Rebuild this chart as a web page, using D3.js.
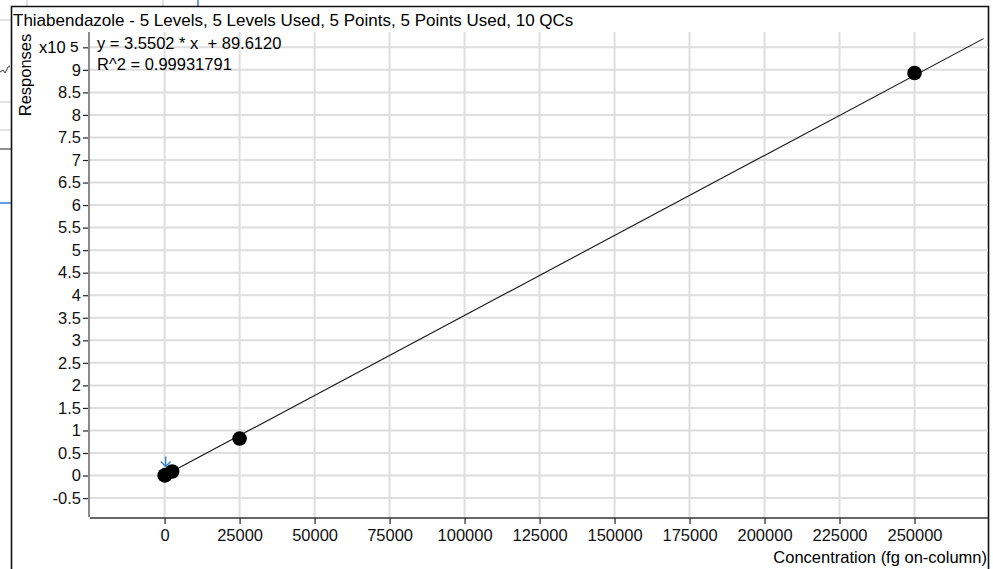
<!DOCTYPE html>
<html>
<head>
<meta charset="utf-8">
<script src="https://cdn.jsdelivr.net/npm/d3@7"></script>
<style>
  html, body { margin: 0; padding: 0; background: #fff; }
  svg { display: block; font-family: "Liberation Sans", Arial, sans-serif; }
  text { white-space: pre; }
</style>
</head>
<body>
<svg id="chart" width="993" height="569"></svg>
<script>
// calibration levels (fg on-column) and their responses
const levels = [25, 250, 2500, 25000, 250000]
const responses = [180, 950, 8900, 82000, 893000]

// linear fit shown in the header
const fitSlope = 3.5502
const fitIntercept = 89.6120
const fitLabel = "y = 3.5502 * x  + 89.6120"
const r2Label = "R^2 = 0.99931791"
const fitRange = [0, 273000]

const xTicks = [0, 25000, 50000, 75000, 100000, 125000, 150000, 175000, 200000, 225000, 250000]
const yTicks = [-0.5, 0, 0.5, 1, 1.5, 2, 2.5, 3, 3.5, 4, 4.5, 5, 5.5, 6, 6.5, 7, 7.5, 8, 8.5, 9, 9.5]
const yTickLabels = ["-0.5", "0", "0.5", "1", "1.5", "2", "2.5", "3", "3.5", "4", "4.5", "5",
    "5.5", "6", "6.5", "7", "7.5", "8", "8.5", "9", ""]

const title = "Thiabendazole - 5 Levels, 5 Levels Used, 5 Points, 5 Points Used, 10 QCs"
const xTitle = "Concentration (fg on-column)"
const yTitle = "Responses"

let svg = d3.select("#chart")
let fontSize = 16.5
let font = "Liberation Sans, Arial, sans-serif"

// bits of the window behind the panel
let bg = svg.append("g").attr("class", "behind")
for (let y of [20, 102, 130]) {
    bg.append("line").attr("x1", 0).attr("x2", 11).attr("y1", y).attr("y2", y)
        .attr("stroke", "#d8d8d8").attr("stroke-width", 1.5)
}
bg.append("line").attr("x1", 0).attr("x2", 11).attr("y1", 149).attr("y2", 149)
    .attr("stroke", "#222").attr("stroke-width", 1)
bg.append("line").attr("x1", 0).attr("x2", 11).attr("y1", 203).attr("y2", 203)
    .attr("stroke", "#3b7dd8").attr("stroke-width", 1.5)
for (let x of [27, 163]) {
    bg.append("line").attr("x1", x).attr("x2", x).attr("y1", 0).attr("y2", 6)
        .attr("stroke", "#d8d8d8").attr("stroke-width", 1.5)
}
bg.append("line").attr("x1", 198).attr("x2", 198).attr("y1", 0).attr("y2", 6)
    .attr("stroke", "#3b7dd8").attr("stroke-width", 1.5)
bg.append("path").attr("d", "M 0,72 L 3,70 L 5,73 L 8,67 L 10,66")
    .attr("fill", "none").attr("stroke", "#333").attr("stroke-width", 1)

// panel frame
svg.append("path")
    .attr("d", "M 11.5,569 L 11.5,6.5 L 988.5,6.5 L 988.5,569")
    .attr("fill", "none")
    .attr("stroke", "#111")
    .attr("stroke-width", 1.6)

let x = d3.scaleLinear().domain([-25200, 274500]).range([89, 988])
let y = d3.scaleLinear().domain([-92000, 984000]).range([517, 32])

// grid
let grid = svg.append("g").attr("class", "grid")
grid.selectAll("line.v")
    .data(xTicks)
    .join("line")
        .attr("class", "v")
        .attr("x1", d => x(d)).attr("x2", d => x(d))
        .attr("y1", 32).attr("y2", 517)
        .attr("stroke", "#dedede").attr("stroke-width", 2)
grid.selectAll("line.h")
    .data(yTicks)
    .join("line")
        .attr("class", "h")
        .attr("x1", 90).attr("x2", 988)
        .attr("y1", d => y(d * 1e5)).attr("y2", d => y(d * 1e5))
        .attr("stroke", "#dedede").attr("stroke-width", 2)

// axes
let yAxis = d3.axisLeft(y)
    .tickValues(yTicks.map(d => d * 1e5))
    .tickFormat((d, i) => yTickLabels[i])
    .tickSize(6)
    .tickPadding(2)
let gy = svg.append("g")
    .attr("transform", "translate(89,0)")
    .call(yAxis)
gy.select(".domain").remove()
gy.append("line")
    .attr("x1", 0).attr("x2", 0).attr("y1", 32).attr("y2", 517)
    .attr("stroke", "#8a8a8a").attr("stroke-width", 2)
gy.selectAll(".tick line").attr("stroke", "#222").attr("stroke-width", 1.2)
gy.selectAll(".tick text")
    .attr("fill", "#111")
    .style("font-size", fontSize + "px")
    .style("font-family", font)

let xAxis = d3.axisBottom(x)
    .tickValues(xTicks)
    .tickFormat(d => String(d))
    .tickSize(6)
    .tickPadding(5)
let gx = svg.append("g")
    .attr("transform", "translate(0,518)")
    .call(xAxis)
gx.select(".domain").remove()
gx.append("line")
    .attr("x1", 90).attr("x2", 988).attr("y1", 0).attr("y2", 0)
    .attr("stroke", "#333").attr("stroke-width", 1.5)
gx.selectAll(".tick line").attr("stroke", "#222").attr("stroke-width", 1.2)
gx.selectAll(".tick text")
    .attr("fill", "#111")
    .style("font-size", fontSize + "px")
    .style("font-family", font)

// exponent label on the top tick
let topY = y(yTicks[yTicks.length - 1] * 1e5)
svg.append("text")
    .attr("x", 39).attr("y", topY).attr("dy", "0.35em")
    .style("font-size", fontSize + "px")
    .text("x10")
svg.append("text")
    .attr("x", 70).attr("y", topY).attr("dy", "0.3em")
    .style("font-size", (fontSize - 1) + "px")
    .text("5")

// titles
svg.append("text")
    .attr("x", 13).attr("y", 20).attr("dy", "0.35em")
    .style("font-size", "17px")
    .text(title)
svg.append("text")
    .attr("transform", "translate(25,75) rotate(-90)")
    .attr("text-anchor", "middle").attr("dy", "0.35em")
    .style("font-size", fontSize + "px")
    .text(yTitle)
svg.append("text")
    .attr("x", 987).attr("y", 557).attr("dy", "0.35em")
    .attr("text-anchor", "end")
    .style("font-size", fontSize + "px")
    .text(xTitle)

// fit equation
svg.append("text")
    .attr("x", 97).attr("y", 43).attr("dy", "0.35em")
    .style("font-size", fontSize + "px")
    .text(fitLabel)
svg.append("text")
    .attr("x", 97).attr("y", 64).attr("dy", "0.35em")
    .style("font-size", fontSize + "px")
    .text(r2Label)

// fit line
let line = d3.line()
    .x(d => x(d))
    .y(d => y(fitSlope * d + fitIntercept))
svg.append("path")
    .datum(fitRange)
    .attr("d", line)
    .attr("fill", "none")
    .attr("stroke", "#111")
    .attr("stroke-width", 1.1)

// calibration points
svg.append("g")
    .selectAll("circle")
    .data(levels)
    .join("circle")
        .attr("cx", d => x(d))
        .attr("cy", (d, i) => y(responses[i]))
        .attr("r", 7.3)
        .attr("fill", "#000")

// marker arrow over the lowest level
let ax = x(levels[0]) + 1
let ay = y(responses[0]) - 9
svg.append("path")
    .attr("d", `M ${ax},${ay - 10} L ${ax},${ay} M ${ax - 5},${ay - 5} L ${ax},${ay} L ${ax + 5},${ay - 5}`)
    .attr("fill", "none")
    .attr("stroke", "#3f86c6")
    .attr("stroke-width", 1.5)
</script>
</body>
</html>
